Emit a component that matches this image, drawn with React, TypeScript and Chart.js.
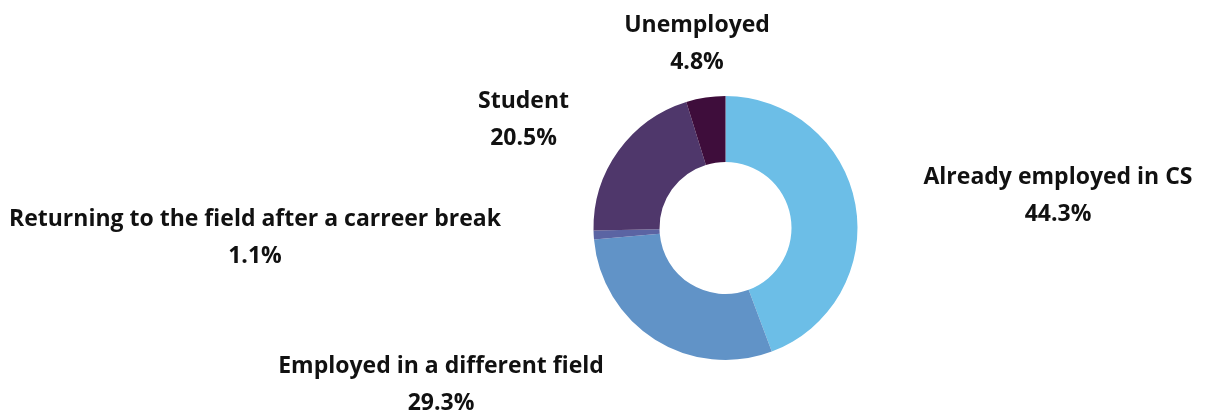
import React, { useEffect, useRef } from "react";
import { Chart, registerables } from "chart.js";

Chart.register(...registerables);

const categories = [
  "Already employed in CS",
  "Employed in a different field",
  "Returning to the field after a carreer break",
  "Student",
  "Unemployed",
];
const values = [44.3, 29.3, 1.1, 20.5, 4.8];
const percentLabels = ["44.3%", "29.3%", "1.1%", "20.5%", "4.8%"];
const colors = ["#6CBEE7", "#6193C7", "#5B64A3", "#4F376B", "#3E0D3B"];
// label block centre offsets relative to the doughnut centre (px)
const labelOffsets: [number, number][] = [
  [332.5, -32],
  [-284.5, 156.5],
  [-470.5, 10],
  [-202, -108.5],
  [-28.5, -184.5],
];

const FONT = "700 23px 'Open Sans'";

const labelPlugin = {
  id: "outerLabels",
  afterDatasetsDraw(chart: any) {
    const meta = chart.getDatasetMeta(0);
    const ctx = chart.ctx;
    ctx.save();
    ctx.fillStyle = "#111111";
    ctx.textAlign = "center";
    ctx.textBaseline = "middle";
    ctx.font = FONT;
    meta.data.forEach((arc: any, i: number) => {
      const cx = arc.x + labelOffsets[i][0];
      const cy = arc.y + labelOffsets[i][1];
      ctx.fillText(categories[i], cx, cy - 18.5);
      ctx.fillText(percentLabels[i], cx, cy + 18.5);
    });
    ctx.restore();
  },
};

export default function App() {
  const ref = useRef<HTMLCanvasElement>(null);
  useEffect(() => {
    document.body.style.margin = "0";
    const chart = new Chart(ref.current!, {
      type: "doughnut",
      data: {
        labels: categories,
        datasets: [
          {
            data: values,
            backgroundColor: colors,
            borderWidth: 0,
          },
        ],
      },
      options: {
        animation: false,
        responsive: false,
        cutout: "50%",
        layout: { padding: { left: 593.5, right: 363.5, top: 96, bottom: 57 } },
        plugins: {
          legend: { display: false },
          tooltip: { enabled: false },
        },
      },
      plugins: [labelPlugin],
    });
    return () => chart.destroy();
  }, []);
  return (
    <div style={{ width: 1221, height: 417, background: "#fff" }}>
      <canvas ref={ref} width={1221} height={417} style={{ display: "block" }} />
    </div>
  );
}
